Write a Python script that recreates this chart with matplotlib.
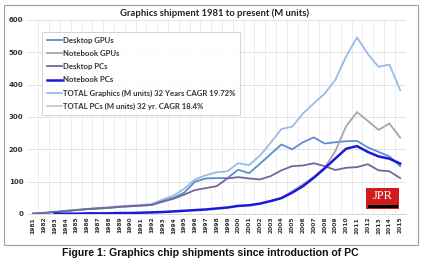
import numpy as np
import matplotlib
matplotlib.use("Agg")
import matplotlib.pyplot as plt
from matplotlib.patches import Rectangle

years = [str(y) for y in range(1981, 2016)]

total_graphics = [2, 4, 7, 10, 13, 16, 19, 21, 24, 26, 28, 31, 45, 57, 78, 107, 120, 129, 132, 157,
                  151, 180, 220, 263, 270, 311, 342, 372, 415, 488, 546, 495, 455, 462, 383]
desktop_gpus = [1, 3, 6, 9, 12, 15, 17, 19, 22, 24, 26, 28, 40, 50, 66, 100, 110, 111, 111, 137,
                126, 155, 185, 215, 200, 222, 237, 218, 222, 225, 226, 206, 192, 178, 148]
notebook_gpus = [None] * 22 + [40, 50, 70, 92, 115, 143, 195, 272, 315, 288, 260, 280, 236]
desktop_pcs = [1, 3, 6, 9, 12, 15, 17, 19, 22, 24, 26, 28, 38, 47, 60, 74, 80, 86, 110, 114,
               110, 107, 117, 135, 148, 150, 157, 148, 136, 143, 145, 154, 135, 132, 111]
notebook_pcs = [None, None, 1, 1, 1, 2, 2, 2, 3, 3, 4, 5, 6, 8, 10, 12, 14, 17, 20, 25,
                27, 32, 40, 49, 66, 86, 112, 141, 172, 202, 210, 192, 178, 171, 156]
total_pcs = [None] * len(years)

series = [
    ("Desktop GPUs", desktop_gpus, "#5b8fcf", 1.3),
    ("Notebook GPUs", notebook_gpus, "#a6a6a6", 1.3),
    ("Desktop PCs", desktop_pcs, "#73679a", 1.3),
    ("Notebook PCs", notebook_pcs, "#1a1adc", 1.8),
    ("TOTAL Graphics (M units) 32 Years CAGR 19.72%", total_graphics, "#98bce6", 1.3),
    ("TOTAL PCs (M units) 32 yr. CAGR 18.4%", total_pcs, "#c9c9c9", 1.3),
]

fig = plt.figure(figsize=(4.3, 2.6), dpi=100)
fig.patch.set_facecolor("white")

# outer chart frame
fig.patches.append(Rectangle((4 / 430, 1 - 245 / 260), 414 / 430, 240 / 260,
                             transform=fig.transFigure, fill=False, edgecolor="#a0a0a0", lw=0.8))

ax = fig.add_axes([27.6 / 430, 1 - 214 / 260, 378 / 430, 194 / 260])
x = np.arange(len(years))

def to_arr(v):
    return np.array([np.nan if a is None else a for a in v], dtype=float)

draw_order = [4, 0, 5, 1, 2, 3]
lines = {}
for i in draw_order:
    name, vals, col, lw = series[i]
    lines[i], = ax.plot(x, to_arr(vals), color=col, lw=lw, label=name)

ax.set_xlim(-0.5, len(years) - 0.5)
ax.set_ylim(0, 600)
ax.set_yticks(range(0, 601, 100))
ax.set_xticks(x)
ax.set_xticklabels(years, rotation=90, fontsize=4.3, fontweight="bold", color="#333333")
ax.tick_params(axis="y", labelsize=5, length=0, pad=3, labelcolor="#333333")
for t in ax.get_yticklabels():
    t.set_fontweight("bold")
ax.tick_params(axis="x", length=0, pad=2)
for yv in range(100, 601, 100):
    ax.axhline(yv, color="#dddddd", lw=0.6, zorder=0)
for xv in np.arange(0.5, len(years) - 0.5, 1):
    ax.axvline(xv, color="#e6e6e6", lw=0.5, zorder=0)
for s in ["top", "right", "left"]:
    ax.spines[s].set_visible(False)
ax.spines["bottom"].set_color("#d0d0d0")
ax.spines["bottom"].set_linewidth(0.6)

leg = fig.legend([lines[i] for i in range(6)], [s[0] for s in series],
                 loc="upper left", bbox_to_anchor=(42 / 430, 1 - 32 / 260),
                 frameon=True, fancybox=False, handlelength=2.0,
                 handletextpad=0.1, labelspacing=0.8, borderpad=0.6, borderaxespad=0,
                 prop={"size": 5.6, "weight": "bold", "family": "Lato"})
leg.get_frame().set_edgecolor("#c0c0c0")
leg.get_frame().set_linewidth(0.6)
for t in leg.get_texts():
    t.set_color("#333333")

fig.text(0.5, 1 - 13 / 260, "Graphics shipment 1981 to present (M units)",
         ha="center", va="center", fontsize=6.8, fontweight="bold", family="Lato", color="#222222")

# JPR logo
fig.patches.append(Rectangle((366 / 430, 1 - 209 / 260), 33 / 430, 21 / 260,
                             transform=fig.transFigure, facecolor="#d01c1c", edgecolor="none"))
fig.patches.append(Rectangle((368 / 430, 1 - 208 / 260), 30 / 430, 3.5 / 260,
                             transform=fig.transFigure, facecolor="black", edgecolor="none"))
fig.text(382.5 / 430, 1 - 196 / 260, "JPR", ha="center", va="center",
         fontsize=9, family="Liberation Serif", color="white")

fig.text(0.49, 1 - 253 / 260, "Figure 1: Graphics chip shipments since introduction of PC",
         ha="center", va="center", fontsize=7.6, fontweight="bold",
         family="Liberation Sans", color="#111111")

fig.savefig("out.png", dpi=100)
